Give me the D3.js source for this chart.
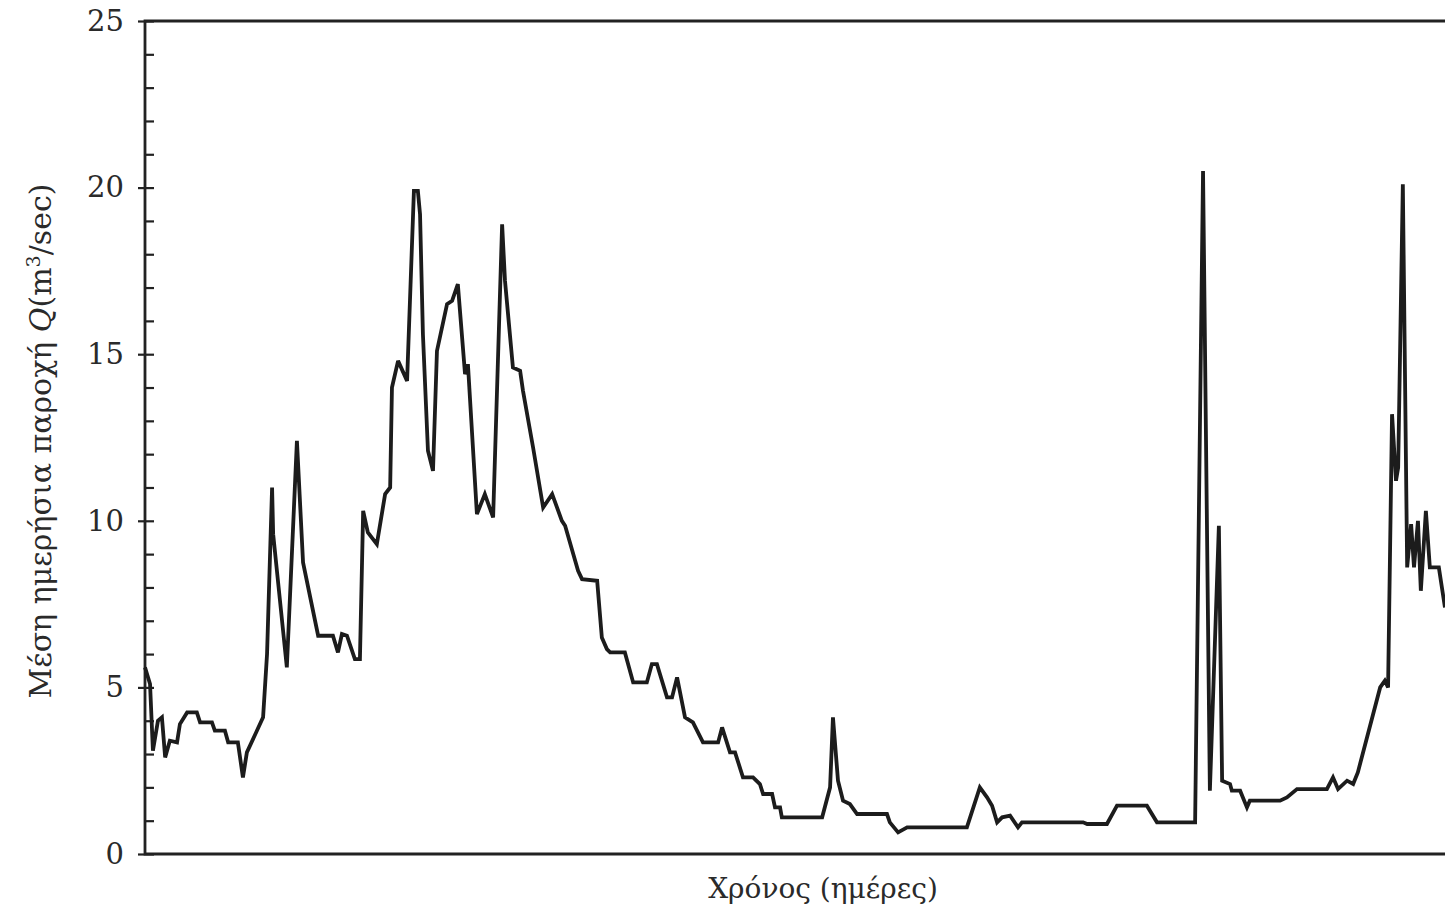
<!DOCTYPE html>
<html>
<head>
<meta charset="utf-8">
<script src="https://cdn.jsdelivr.net/npm/d3@7"></script>
<style>
  html, body { margin: 0; padding: 0; background: #ffffff; overflow: hidden; }
  svg { display: block; }
  text { font-family: "DejaVu Serif", "Liberation Serif", serif; fill: #2a2a2a; }
</style>
</head>
<body>
<svg id="chart" width="1445" height="909"></svg>
<script>
// Daily mean discharge over one hydrological year (day index, m3/sec)
const days = [
  0, 1.4, 2.2, 3.6, 4.7, 5.6, 6.9, 8.9, 9.7, 11.7, 14.4, 15.3, 18.6, 19.4, 22.2, 23.1,
  25.8, 27.2, 28.3, 32.8, 33.9, 35.3, 35.6, 39.4, 42.2, 43.9, 48.1, 52.2, 53.6, 54.7,
  56.1, 58.3, 59.7, 60.6, 61.9, 64.4, 66.7, 68.1, 68.6, 70.3, 72.8, 74.7, 75.8, 76.4,
  77.2, 78.6, 80, 81.1, 83.9, 85.3, 86.9, 88.9, 89.7, 92.2, 94.4, 96.7, 99.2, 100,
  102.2, 104.2, 105, 107.8, 110.6, 113.1, 115.8, 116.7, 120.3, 121.4, 125.6, 126.9,
  128.3, 129.2, 133.3, 135.6, 139.4, 140.8, 142.2, 145, 146.4, 147.8, 150, 152.2, 155,
  159.2, 160.3, 162.5, 163.9, 166.1, 168.9, 170.8, 171.7, 174.2, 175, 176.4, 176.9,
  188.1, 190.3, 191.1, 192.5, 193.9, 195.8, 197.8, 206.1, 206.9, 209.2, 211.7, 228.3,
  229.2, 231.9, 233.9, 235.3, 236.7, 238.1, 240.3, 242.5, 243.6, 260.6, 261.7, 267.2,
  270, 278.3, 281.1, 291.7, 293.9, 295.8, 298.3, 299.2, 301.4, 301.9, 304.2, 306.1,
  306.9, 315.3, 317.2, 320, 328.3, 330, 331.4, 333.9, 335.6, 336.9, 343.1, 344.4,
  345.3, 346.4, 347.5, 348.1, 349.4, 350.6, 351.7, 352.5, 353.6, 354.4, 355.8, 356.9,
  359.4, 361.1
];
const discharge = [
  5.6, 5.1, 3.1, 4.0, 4.1, 2.9, 3.4, 3.35, 3.9, 4.25, 4.25, 3.95, 3.95, 3.7, 3.7, 3.35,
  3.35, 2.3, 3.05, 4.1, 6.0, 11.0, 9.6, 5.6, 12.4, 8.75, 6.55, 6.55, 6.05, 6.6,
  6.55, 5.85, 5.85, 10.3, 9.65, 9.3, 10.8, 11.0, 14.0, 14.8, 14.2, 19.9, 19.9, 19.2,
  15.6, 12.1, 11.5, 15.1, 16.5, 16.6, 17.1, 14.4, 14.7, 10.2, 10.8, 10.1, 18.9, 17.2,
  14.6, 14.5, 13.9, 12.2, 10.4, 10.8, 10.0, 9.85, 8.5, 8.25, 8.2, 6.5,
  6.15, 6.05, 6.05, 5.15, 5.15, 5.7, 5.7, 4.7, 4.7, 5.3, 4.1, 3.95, 3.35,
  3.35, 3.8, 3.05, 3.05, 2.3, 2.3, 2.1, 1.8, 1.8, 1.4, 1.4, 1.1,
  1.1, 2.0, 4.1, 2.2, 1.6, 1.5, 1.2, 1.2, 0.95, 0.65, 0.8, 0.8,
  1.1, 2.0, 1.7, 1.45, 0.95, 1.1, 1.15, 0.8, 0.95, 0.95, 0.9, 0.9,
  1.45, 1.45, 0.95, 0.95, 20.5, 1.9, 9.85, 2.2, 2.1, 1.9, 1.9, 1.4,
  1.6, 1.6, 1.7, 1.95, 1.95, 2.3, 1.95, 2.2, 2.1, 2.45, 5.0, 5.2,
  5.0, 13.2, 11.2, 11.6, 20.1, 8.6, 9.9, 8.6, 10.0, 7.9, 10.3, 8.6,
  8.6, 7.4
];
const yTickValues = [0, 5, 10, 15, 20, 25];
const yMinorValues = d3.range(0, 26, 1);
const xTitle = "Χρόνος (ημέρες)";
const yTitleMain = "Μέση ημερήσια παροχή  ";
const yTitleSymbol = "Q";
const yTitleUnit = "(m";
const yTitleSup = "3";
const yTitleEnd = "/sec)";

const svg = d3.select("#chart");
const plotLeft = 145, plotTop = 21, plotBottom = 854, plotRight = 1459;

const x = d3.scaleLinear().domain([0, 365]).range([plotLeft, plotRight]);
const y = d3.scaleLinear().domain([0, 25]).range([plotBottom, plotTop]);

const ink = "#222222";

// Frame: left, top and bottom edges of the plotting area
svg.append("path")
  .attr("d", `M${plotRight + 10},${plotTop}H${plotLeft}V${plotBottom}H${plotRight + 10}`)
  .attr("fill", "none")
  .attr("stroke", ink)
  .attr("stroke-width", 2.8);

// Minor ticks every 1 m3/sec, inside the axis
const yMinor = d3.axisRight(y).tickValues(yMinorValues).tickSize(9).tickFormat("");
const gMinor = svg.append("g").attr("transform", `translate(${plotLeft},0)`).call(yMinor);
gMinor.select(".domain").remove();
gMinor.selectAll("line").attr("stroke", ink).attr("stroke-width", 2.2);

// Major ticks crossing the axis, with labels
const yMajor = d3.axisLeft(y).tickValues(yTickValues).tickSize(7).tickPadding(14).tickFormat(d3.format("d"));
const gMajor = svg.append("g").attr("transform", `translate(${plotLeft},0)`).call(yMajor);
gMajor.select(".domain").remove();
gMajor.selectAll("line").attr("stroke", ink).attr("stroke-width", 2.2);
gMajor.selectAll("text")
  .attr("font-family", "DejaVu Serif")
  .attr("font-size", 29)
  .attr("fill", "#2a2a2a");

// Discharge hydrograph
const series = days.map((d, i) => ({ day: d, q: discharge[i] }));
const line = d3.line().x(d => x(d.day)).y(d => y(d.q));
svg.append("path")
  .datum(series)
  .attr("d", line)
  .attr("fill", "none")
  .attr("stroke", "#1c1c1c")
  .attr("stroke-width", 3.8)
  .attr("stroke-linejoin", "miter")
  .attr("stroke-miterlimit", 3);

// Axis titles
svg.append("text")
  .attr("x", 823)
  .attr("y", 898)
  .attr("text-anchor", "middle")
  .attr("font-size", 28)
  .text(xTitle);

const yt = svg.append("text")
  .attr("transform", "translate(51,441) rotate(-90)")
  .attr("text-anchor", "middle")
  .attr("font-size", 30);
yt.append("tspan").text(yTitleMain);
yt.append("tspan").attr("font-style", "italic").text(yTitleSymbol);
yt.append("tspan").text(yTitleUnit);
yt.append("tspan").attr("font-size", 19).attr("dy", -11).text(yTitleSup);
yt.append("tspan").attr("dy", 11).text(yTitleEnd);
</script>
</body>
</html>
